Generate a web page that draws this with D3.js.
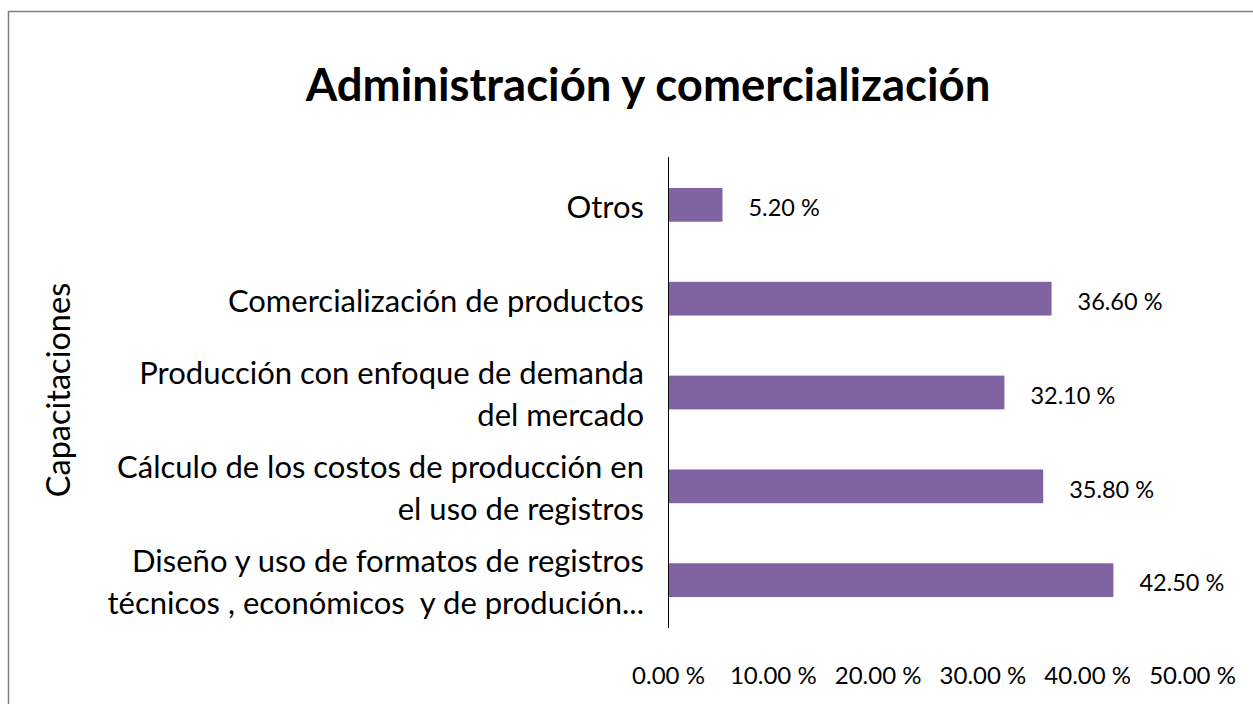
<!DOCTYPE html>
<meta charset="utf-8">
<style>
	body { margin: 0; padding: 0; background: #ffffff; font-family: Lato, 'Open Sans', sans-serif; }
	.axis text { fill: #000; font: 24px Lato, sans-serif; }
	.axis path, .axis line { fill: none; stroke: #000; }
	.bar { fill: #8064A2; }
	.cat { font: 31px Lato, sans-serif; fill: #000; white-space: pre; }
	.val { font: 23.5px Lato, sans-serif; fill: #000; }
</style>
<body>
<svg class="chart"></svg>
<script src="https://d3js.org/d3.v7.min.js"></script>
<script>

var categories = [
	["Otros"],
	["Comercialización de productos"],
	["Producción con enfoque de demanda", "del mercado"],
	["Cálculo de los costos de producción en", "el uso de registros"],
	["Diseño y uso de formatos de registros", "técnicos , económicos  y de produción..."]
];
var values = [5.2, 36.6, 32.1, 35.8, 42.5];
var ticks = [0, 10, 20, 30, 40, 50];

var W = 1253, H = 704;
var margin = {top: 157, left: 668, right: 61, bottom: 76};
var width = W - margin.left - margin.right;
var height = H - margin.top - margin.bottom;

var svg = d3.select(".chart")
	.attr("width", W)
	.attr("height", H);

// chart border
svg.append("rect")
	.attr("x", 8.5).attr("y", 11.5)
	.attr("width", W).attr("height", H)
	.attr("fill", "none")
	.attr("stroke", "#7f7f7f")
	.attr("stroke-width", 1.5);

svg.append("text")
	.attr("x", 648).attr("y", 101)
	.attr("text-anchor", "middle")
	.style("font", "bold 45.5px Lato, sans-serif")
	.text("Administración y comercialización");

svg.append("text")
	.attr("transform", "translate(70,390) rotate(-90)")
	.attr("text-anchor", "middle")
	.style("font", "32.5px Lato, sans-serif")
	.text("Capacitaciones");

var x = d3.scaleLinear().domain([0, 50]).range([0, width]);
var y = d3.scaleBand().domain(d3.range(values.length)).range([0, height]).paddingInner(0.64).paddingOuter(0.33);

var g = svg.append("g").attr("transform", "translate(" + margin.left + "," + margin.top + ")");

g.append("g")
	.attr("class", "axis")
	.attr("transform", "translate(0," + (height + 36) + ")")
	.call(d3.axisBottom(x).tickValues(ticks).tickSize(0).tickFormat(function(d) { return d3.format(".2f")(d) + " %"; }))
	.call(function(s) { s.select(".domain").remove(); });

g.selectAll(".bar")
	.data(values)
  .enter().append("rect")
	.attr("class", "bar")
	.attr("x", 0)
	.attr("y", function(d, i) { return y(i); })
	.attr("width", function(d) { return x(d); })
	.attr("height", y.bandwidth());

g.append("line")
	.attr("x1", 0.5).attr("x2", 0.5)
	.attr("y1", 0).attr("y2", height)
	.attr("stroke", "#000");

g.selectAll(".val")
	.data(values)
  .enter().append("text")
	.attr("class", "val")
	.attr("x", function(d) { return x(d) + 26; })
	.attr("y", function(d, i) { return y(i) + y.bandwidth() / 2 + 3; })
	.attr("dy", "0.35em")
	.text(function(d) { return d3.format(".2f")(d) + " %"; });

categories.forEach(function(lines, i) {
	var cy = y(i) + y.bandwidth() / 2;
	var t = g.append("text")
		.attr("class", "cat")
		.attr("text-anchor", "end")
		.attr("x", -24);
	lines.forEach(function(l, j) {
		t.append("tspan")
			.attr("x", -24)
			.attr("y", cy + 2 + (j - (lines.length - 1) / 2) * 42)
			.attr("dy", "0.35em")
			.text(l);
	});
});

</script>
</body>
